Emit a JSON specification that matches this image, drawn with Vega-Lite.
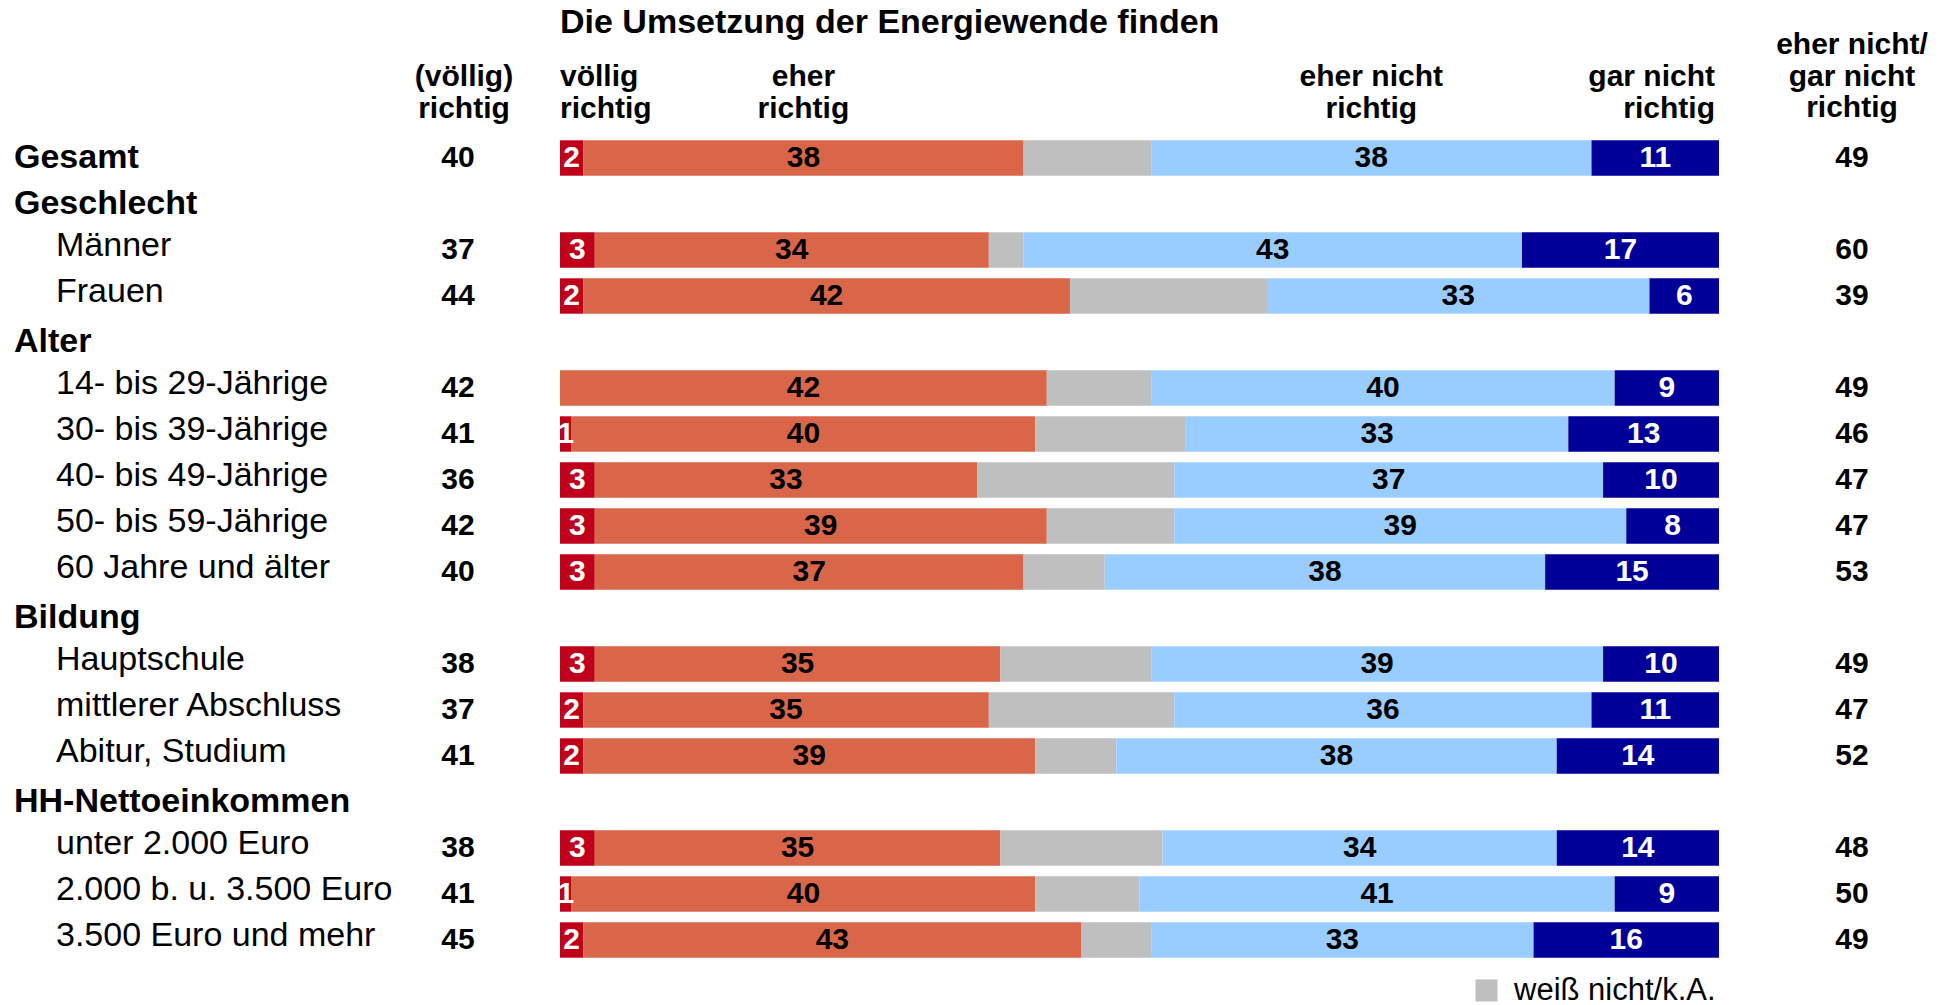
{
  "$schema": "https://vega.github.io/schema/vega-lite/v6.json",
  "autosize": {"type": "pad"},
  "padding": {"left": 14, "top": 6, "right": 0, "bottom": 0},
  "background": "#ffffff",
  "bounds": "flush",
  "spacing": 62,
  "resolve": {"scale": {"color": "independent"}, "legend": {"color": "independent"}},
  "config": {
    "font": "Liberation Sans",
    "view": {"stroke": null},
    "text": {"font": "Liberation Sans", "color": "#000000"},
    "title": {"font": "Liberation Sans", "color": "#000000"},
    "legend": {"labelFont": "Liberation Sans"}
  },
  "datasets": {
    "rows": [
      {"row": "Gesamt", "kind": "group"},
      {"row": "Geschlecht", "kind": "group"},
      {"row": "Männer", "kind": "item"},
      {"row": "Frauen", "kind": "item"},
      {"row": "Alter", "kind": "group"},
      {"row": "14- bis 29-Jährige", "kind": "item"},
      {"row": "30- bis 39-Jährige", "kind": "item"},
      {"row": "40- bis 49-Jährige", "kind": "item"},
      {"row": "50- bis 59-Jährige", "kind": "item"},
      {"row": "60 Jahre und älter", "kind": "item"},
      {"row": "Bildung", "kind": "group"},
      {"row": "Hauptschule", "kind": "item"},
      {"row": "mittlerer Abschluss", "kind": "item"},
      {"row": "Abitur, Studium", "kind": "item"},
      {"row": "HH-Nettoeinkommen", "kind": "group"},
      {"row": "unter 2.000 Euro", "kind": "item"},
      {"row": "2.000 b. u. 3.500 Euro", "kind": "item"},
      {"row": "3.500 Euro und mehr", "kind": "item"}
    ],
    "bars": [
      {"row": "Gesamt", "vr": 2, "er": 38, "wn": 11, "en": 38, "gn": 11, "left": 40, "right": 49},
      {"row": "Männer", "vr": 3, "er": 34, "wn": 3, "en": 43, "gn": 17, "left": 37, "right": 60},
      {"row": "Frauen", "vr": 2, "er": 42, "wn": 17, "en": 33, "gn": 6, "left": 44, "right": 39},
      {"row": "14- bis 29-Jährige", "vr": 0, "er": 42, "wn": 9, "en": 40, "gn": 9, "left": 42, "right": 49},
      {"row": "30- bis 39-Jährige", "vr": 1, "er": 40, "wn": 13, "en": 33, "gn": 13, "left": 41, "right": 46},
      {"row": "40- bis 49-Jährige", "vr": 3, "er": 33, "wn": 17, "en": 37, "gn": 10, "left": 36, "right": 47},
      {"row": "50- bis 59-Jährige", "vr": 3, "er": 39, "wn": 11, "en": 39, "gn": 8, "left": 42, "right": 47},
      {"row": "60 Jahre und älter", "vr": 3, "er": 37, "wn": 7, "en": 38, "gn": 15, "left": 40, "right": 53},
      {"row": "Hauptschule", "vr": 3, "er": 35, "wn": 13, "en": 39, "gn": 10, "left": 38, "right": 49},
      {"row": "mittlerer Abschluss", "vr": 2, "er": 35, "wn": 16, "en": 36, "gn": 11, "left": 37, "right": 47},
      {"row": "Abitur, Studium", "vr": 2, "er": 39, "wn": 7, "en": 38, "gn": 14, "left": 41, "right": 52},
      {"row": "unter 2.000 Euro", "vr": 3, "er": 35, "wn": 14, "en": 34, "gn": 14, "left": 38, "right": 48},
      {"row": "2.000 b. u. 3.500 Euro", "vr": 1, "er": 40, "wn": 9, "en": 41, "gn": 9, "left": 41, "right": 50},
      {"row": "3.500 Euro und mehr", "vr": 2, "er": 43, "wn": 6, "en": 33, "gn": 16, "left": 45, "right": 49}
    ],
    "cats": [
      {"code": "vr", "name": "völlig richtig", "order": 1},
      {"code": "er", "name": "eher richtig", "order": 2},
      {"code": "wn", "name": "weiß nicht/k.A.", "order": 3},
      {"code": "en", "name": "eher nicht richtig", "order": 4},
      {"code": "gn", "name": "gar nicht richtig", "order": 5}
    ]
  },
  "hconcat": [
    {
      "width": 342,
      "height": 920,
      "data": {"name": "rows"},
      "encoding": {
        "x": {"field": "kind", "type": "nominal", "axis": null, "scale": {"type": "point", "domain": ["group", "item"], "range": [0, 42], "padding": 0}},
        "y": {"field": "row", "type": "nominal", "axis": null, "scale": {"domain": ["_head", "Gesamt", "Geschlecht", "Männer", "Frauen", "Alter", "14- bis 29-Jährige", "30- bis 39-Jährige", "40- bis 49-Jährige", "50- bis 59-Jährige", "60 Jahre und älter", "Bildung", "Hauptschule", "mittlerer Abschluss", "Abitur, Studium", "HH-Nettoeinkommen", "unter 2.000 Euro", "2.000 b. u. 3.500 Euro", "3.500 Euro und mehr", "_legend"], "paddingInner": 0.23, "paddingOuter": 0.115}},
        "text": {"field": "row", "type": "nominal"}
      },
      "layer": [
        {
          "transform": [{"filter": "datum.kind === 'group'"}],
          "mark": {"type": "text", "align": "left", "baseline": "middle", "fontSize": 34, "fontWeight": "bold", "dy": 0}
        },
        {
          "transform": [{"filter": "datum.kind === 'item'"}],
          "mark": {"type": "text", "align": "left", "baseline": "middle", "fontSize": 34, "fontWeight": "normal", "dy": -4}
        }
      ]
    },
    {
      "width": 80,
      "height": 920,
      "layer": [
        {
          "data": {"name": "bars"},
          "mark": {"type": "text", "baseline": "middle", "fontSize": 30, "fontWeight": "bold"},
          "encoding": {
            "y": {"field": "row", "type": "nominal", "axis": null, "scale": {"domain": ["_head", "Gesamt", "Geschlecht", "Männer", "Frauen", "Alter", "14- bis 29-Jährige", "30- bis 39-Jährige", "40- bis 49-Jährige", "50- bis 59-Jährige", "60 Jahre und älter", "Bildung", "Hauptschule", "mittlerer Abschluss", "Abitur, Studium", "HH-Nettoeinkommen", "unter 2.000 Euro", "2.000 b. u. 3.500 Euro", "3.500 Euro und mehr", "_legend"], "paddingInner": 0.23, "paddingOuter": 0.115}},
            "text": {"field": "left", "type": "nominal"}
          }
        },
        {
          "data": {"values": [{"lines": ["(völlig)", "richtig"]}]},
          "mark": {"type": "text", "baseline": "middle", "fontSize": 30, "fontWeight": "bold", "lineHeight": 31.5, "dy": -35, "dx": 6},
          "encoding": {
            "y": {"datum": "_head", "type": "nominal", "axis": null, "scale": {"domain": ["_head", "Gesamt", "Geschlecht", "Männer", "Frauen", "Alter", "14- bis 29-Jährige", "30- bis 39-Jährige", "40- bis 49-Jährige", "50- bis 59-Jährige", "60 Jahre und älter", "Bildung", "Hauptschule", "mittlerer Abschluss", "Abitur, Studium", "HH-Nettoeinkommen", "unter 2.000 Euro", "2.000 b. u. 3.500 Euro", "3.500 Euro und mehr", "_legend"], "paddingInner": 0.23, "paddingOuter": 0.115}},
            "text": {"field": "lines"}
          }
        }
      ]
    },
    {
      "width": 1159,
      "height": 920,
      "title": {"text": "Die Umsetzung der Energiewende finden", "anchor": "start", "frame": "group", "fontSize": 34, "fontWeight": "bold", "color": "#000000", "offset": 22},
      "data": {"name": "bars"},
      "transform": [
        {"fold": ["vr", "er", "wn", "en", "gn"], "as": ["code", "value"]},
        {"lookup": "code", "from": {"data": {"name": "cats"}, "key": "code", "fields": ["name", "order"]}},
        {"stack": "value", "groupby": ["row"], "sort": [{"field": "order", "order": "ascending"}], "as": ["v0", "v1"]},
        {"calculate": "(datum.v0 + datum.v1) / 2", "as": "mid"},
        {"calculate": "split(replace(datum.name, ' richtig', '|richtig'), '|')", "as": "lines"}
      ],
      "encoding": {
        "y": {"field": "row", "type": "nominal", "axis": null, "scale": {"domain": ["_head", "Gesamt", "Geschlecht", "Männer", "Frauen", "Alter", "14- bis 29-Jährige", "30- bis 39-Jährige", "40- bis 49-Jährige", "50- bis 59-Jährige", "60 Jahre und älter", "Bildung", "Hauptschule", "mittlerer Abschluss", "Abitur, Studium", "HH-Nettoeinkommen", "unter 2.000 Euro", "2.000 b. u. 3.500 Euro", "3.500 Euro und mehr", "_legend"], "paddingInner": 0.23, "paddingOuter": 0.115}}
      },
      "layer": [
        {
          "mark": {"type": "bar"},
          "encoding": {
            "x": {"field": "v0", "type": "quantitative", "axis": null, "scale": {"domain": [0, 100], "nice": false}},
            "x2": {"field": "v1"},
            "color": {
              "field": "code",
              "type": "nominal",
              "scale": {"domain": ["vr", "er", "wn", "en", "gn"], "range": ["#C0001A", "#D96649", "#BFBFBF", "#99CCFF", "#000099"]},
              "legend": {"values": ["wn"], "orient": "bottom-right", "title": null, "labelExpr": "'weiß nicht/k.A.'", "symbolType": "square", "symbolSize": 484, "symbolStrokeWidth": 0, "labelFontSize": 31, "labelColor": "#000000", "labelOffset": 12, "labelLimit": 400, "padding": 0, "offset": 3}
            }
          }
        },
        {
          "transform": [{"filter": "datum.code !== 'wn' && datum.value > 0"}],
          "mark": {"type": "text", "baseline": "middle", "align": "center", "fontSize": 30, "fontWeight": "bold"},
          "encoding": {
            "x": {"field": "mid", "type": "quantitative", "axis": null, "scale": {"domain": [0, 100], "nice": false}},
            "text": {"field": "value", "type": "nominal"},
            "color": {"condition": {"test": "datum.code === 'vr' || datum.code === 'gn'", "value": "#ffffff"}, "value": "#000000"}
          }
        },
        {
          "transform": [{"filter": "datum.row === 'Gesamt' && datum.code === 'vr'"}],
          "mark": {"type": "text", "baseline": "middle", "align": "left", "fontSize": 30, "fontWeight": "bold", "lineHeight": 31.5, "dy": -35},
          "encoding": {
            "x": {"field": "v0", "type": "quantitative", "axis": null, "scale": {"domain": [0, 100], "nice": false}},
            "y": {"datum": "_head", "type": "nominal"},
            "text": {"field": "lines"}
          }
        },
        {
          "transform": [{"filter": "datum.row === 'Gesamt' && (datum.code === 'er' || datum.code === 'en')"}],
          "mark": {"type": "text", "baseline": "middle", "align": "center", "fontSize": 30, "fontWeight": "bold", "lineHeight": 31.5, "dy": -35},
          "encoding": {
            "x": {"field": "mid", "type": "quantitative", "axis": null, "scale": {"domain": [0, 100], "nice": false}},
            "y": {"datum": "_head", "type": "nominal"},
            "text": {"field": "lines"}
          }
        },
        {
          "transform": [{"filter": "datum.row === 'Gesamt' && datum.code === 'gn'"}],
          "mark": {"type": "text", "baseline": "middle", "align": "right", "fontSize": 30, "fontWeight": "bold", "lineHeight": 31.5, "dy": -35, "dx": -4},
          "encoding": {
            "x": {"field": "v1", "type": "quantitative", "axis": null, "scale": {"domain": [0, 100], "nice": false}},
            "y": {"datum": "_head", "type": "nominal"},
            "text": {"field": "lines"}
          }
        }
      ]
    },
    {
      "width": 142,
      "height": 920,
      "layer": [
        {
          "data": {"name": "bars"},
          "mark": {"type": "text", "baseline": "middle", "fontSize": 30, "fontWeight": "bold"},
          "encoding": {
            "y": {"field": "row", "type": "nominal", "axis": null, "scale": {"domain": ["_head", "Gesamt", "Geschlecht", "Männer", "Frauen", "Alter", "14- bis 29-Jährige", "30- bis 39-Jährige", "40- bis 49-Jährige", "50- bis 59-Jährige", "60 Jahre und älter", "Bildung", "Hauptschule", "mittlerer Abschluss", "Abitur, Studium", "HH-Nettoeinkommen", "unter 2.000 Euro", "2.000 b. u. 3.500 Euro", "3.500 Euro und mehr", "_legend"], "paddingInner": 0.23, "paddingOuter": 0.115}},
            "text": {"field": "right", "type": "nominal"}
          }
        },
        {
          "data": {"values": [{"lines": ["eher nicht/", "gar nicht", "richtig"]}]},
          "mark": {"type": "text", "baseline": "middle", "fontSize": 30, "fontWeight": "bold", "lineHeight": 31.5, "dy": -67},
          "encoding": {
            "y": {"datum": "_head", "type": "nominal", "axis": null, "scale": {"domain": ["_head", "Gesamt", "Geschlecht", "Männer", "Frauen", "Alter", "14- bis 29-Jährige", "30- bis 39-Jährige", "40- bis 49-Jährige", "50- bis 59-Jährige", "60 Jahre und älter", "Bildung", "Hauptschule", "mittlerer Abschluss", "Abitur, Studium", "HH-Nettoeinkommen", "unter 2.000 Euro", "2.000 b. u. 3.500 Euro", "3.500 Euro und mehr", "_legend"], "paddingInner": 0.23, "paddingOuter": 0.115}},
            "text": {"field": "lines"}
          }
        }
      ]
    }
  ]
}
